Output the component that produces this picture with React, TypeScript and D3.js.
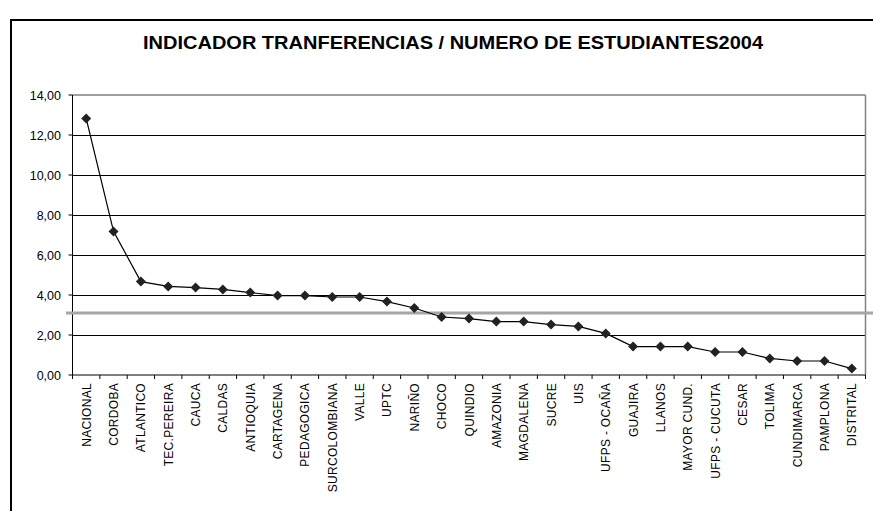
import React from "react";
import * as d3 from "d3";

const categories = [
  "NACIONAL", "CORDOBA", "ATLANTICO", "TEC.PEREIRA", "CAUCA", "CALDAS", "ANTIOQUIA",
  "CARTAGENA", "PEDAGOGICA", "SURCOLOMBIANA", "VALLE", "UPTC", "NARIÑO", "CHOCO",
  "QUINDIO", "AMAZONIA", "MAGDALENA", "SUCRE", "UIS", "UFPS - OCAÑA", "GUAJIRA",
  "LLANOS", "MAYOR CUND.", "UFPS - CUCUTA", "CESAR", "TOLIMA", "CUNDIMARCA",
  "PAMPLONA", "DISTRITAL",
];
const values = [
  12.83, 7.18, 4.67, 4.43, 4.37, 4.28, 4.12, 3.97, 3.97, 3.9, 3.9, 3.67, 3.35, 2.9,
  2.82, 2.67, 2.67, 2.52, 2.43, 2.08, 1.42, 1.42, 1.42, 1.15, 1.15, 0.83, 0.7, 0.7, 0.32,
];
const yTicks = [0, 2, 4, 6, 8, 10, 12, 14];
const averageLine = 3.1;
const title = "INDICADOR TRANFERENCIAS / NUMERO DE ESTUDIANTES2004";

const W = 873;
const H = 511;
const left = 72.5;
const right = 865.5;
const top = 95;
const bottom = 375;

export default function App() {
  const x = d3.scaleBand<string>().domain(categories).range([left, right]);
  const y = d3.scaleLinear().domain([0, 14]).range([bottom, top]);
  const cx = (c: string) => (x(c) as number) + x.bandwidth() / 2;
  const line = d3
    .line<number>()
    .x((_, i) => cx(categories[i]))
    .y((v) => y(v));
  const fmt = (v: number) => v.toFixed(2).replace(".", ",");
  const font = "Liberation Sans, Arial, sans-serif";
  const boundaries = categories.map((c) => x(c) as number).concat([right]);

  return (
    <svg
      width={W}
      height={H}
      style={{ position: "absolute", left: 0, top: 0, background: "#fff" }}
      fontFamily={font}
    >
      <rect x={11} y={20} width={1000} height={600} fill="#fff" stroke="#000" strokeWidth={2} />
      <text
        x={453}
        y={49}
        textAnchor="middle"
        fontWeight="bold"
        fontSize={18}
        textLength={620}
        lengthAdjust="spacingAndGlyphs"
      >
        {title}
      </text>
      {/* gridlines */}
      {yTicks.filter((t) => t > 0 && t < 14).map((t) => (
        <line key={t} x1={left} x2={right} y1={Math.round(y(t)) + 0.5} y2={Math.round(y(t)) + 0.5} stroke="#000" strokeWidth={1} />
      ))}
      {/* plot border top/right */}
      <line x1={left} x2={right} y1={y(14)} y2={y(14)} stroke="#808080" strokeWidth={1.5} />
      <line x1={right} x2={right} y1={top} y2={bottom} stroke="#808080" strokeWidth={1.5} />
      {/* axes */}
      <line x1={left} x2={left} y1={top} y2={bottom} stroke="#000" strokeWidth={1} />
      <line x1={left} x2={right} y1={bottom} y2={bottom} stroke="#000" strokeWidth={1} />
      {yTicks.map((t) => (
        <g key={t}>
          <line x1={left - 4} x2={left} y1={y(t)} y2={y(t)} stroke="#000" />
          <text x={61} y={y(t) + 4.5} textAnchor="end" fontSize={12.5}>
            {fmt(t)}
          </text>
        </g>
      ))}
      {boundaries.map((b, i) => (
        <line key={i} x1={b} x2={b} y1={bottom} y2={bottom + 4} stroke="#000" />
      ))}
      {categories.map((c) => (
        <text
          key={c}
          transform={`translate(${cx(c) + 4.5},${bottom + 8}) rotate(-90)`}
          textAnchor="end"
          fontSize={12}
          letterSpacing={0.3}
        >
          {c}
        </text>
      ))}
      {/* average line */}
      <line x1={66} x2={W} y1={y(averageLine)} y2={y(averageLine)} stroke="#a6a6a6" strokeWidth={3} />
      {/* data */}
      <path d={line(values) as string} fill="none" stroke="#000" strokeWidth={1.2} />
      {values.map((v, i) => {
        const px = cx(categories[i]);
        const py = y(v);
        const s = 5;
        return (
          <path
            key={i}
            d={`M${px},${py - s}L${px + s},${py}L${px},${py + s}L${px - s},${py}Z`}
            fill="#222"
          />
        );
      })}
    </svg>
  );
}
